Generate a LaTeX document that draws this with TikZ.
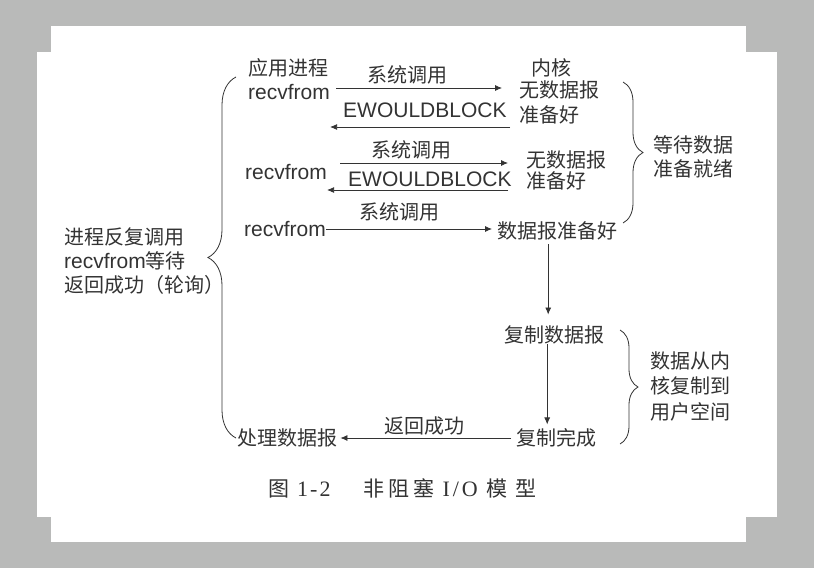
\documentclass[tikz,border=0pt]{standalone}
\usepackage{fontspec}
\setmainfont{Liberation Sans}
\newfontfamily\cjk{Noto Sans CJK SC}
\newfontfamily\lat{Liberation Sans}
\newfontfamily\ser{Liberation Serif}
\usetikzlibrary{%
  arrows.meta,
  calc,
  decorations.pathreplacing
}
\definecolor{fondgris}{HTML}{B9BAB9}
\definecolor{encre}{HTML}{333333}
\tikzset{
  zh/.style={inner sep=0pt, text=encre, font=\cjk\fontsize{20}{24}\selectfont},
  en/.style={inner sep=0pt, text=encre, font=\lat\fontsize{21}{24}\selectfont},
  fleche/.style={-{Latex[length=7pt, width=6pt]}, draw=encre, line width=0.8pt},
  accolade/.style={decorate, decoration={brace, amplitude=#1},
                   draw=encre, line width=0.8pt},
}

\begin{document}
\begin{tikzpicture}[
  x=1pt,
  y=-1pt,
]
  % fond de la page
  \fill [fondgris] (  0,  0) rectangle (814,568) ;
  \fill [white]    ( 51, 26) rectangle (746,542) ;
  \fill [white]    ( 37, 52) rectangle (777,517) ;
  \useasboundingbox (0,0) rectangle (814,568) ;

  % cote application
  \node [zh, anchor=west] (ap) at (248, 68) {应用进程} ;
  \foreach \n/\x/\y in {rf1/248/92, rf2/245/172, rf3/244/229} {
    \node [en, anchor=west] (\n) at (\x,\y) {recvfrom} ;
  }
  \node [zh, anchor=west] (cl) at (237,438) {处理数据报} ;

  % cote noyau
  \node [zh]               (nh)  at (551, 68) {内核} ;
  \node [zh, anchor=west]  (nd1) at (519, 90) {无数据报} ;
  \node [zh, anchor=west]  (zb1) at (519,115) {准备好} ;
  \node [zh, anchor=west]  (nd2) at (526,160) {无数据报} ;
  \node [zh, anchor=west]  (zb2) at (526,181) {准备好} ;
  \node [zh, anchor=west]  (sj)  at (497,231) {数据报准备好} ;
  \node [zh, anchor=west]  (fz)  at (504,335) {复制数据报} ;
  \node [zh, anchor=west]  (wc)  at (516,438) {复制完成} ;

  % etiquettes des fleches
  \foreach \n/\x/\y in {xt1/407/75, xt2/411/150, xt3/399/212} {
    \node [zh] (\n) at (\x,\y) {系统调用} ;
  }
  \node [en, anchor=west] (eb1) at (343,110) {EWOULDBLOCK} ;
  \node [en, anchor=west] (eb2) at (348,179) {EWOULDBLOCK} ;
  \node [zh]              (fh)  at (424,426) {返回成功} ;

  % appels et retours
  \draw [fleche, shorten <=6pt, shorten >=17pt]
        ([yshift=4pt]rf1.east) -- ([yshift=4pt]rf1.east -| nd1.west) ;
  \draw [fleche, shorten <=9pt]
        ([yshift=-12pt]zb1.west) -- ([yshift=-12pt]zb1.west -| rf1.east) ;
  \draw [fleche, shorten <=13pt, shorten >=18pt]
        ([yshift=9pt]rf2.east) -- ([yshift=9pt]rf2.east -| nd2.west) ;
  \draw [fleche, shorten <=18pt]
        ([yshift=-9pt]zb2.west) -- ([yshift=-9pt]zb2.west -| rf2.east) ;
  \draw [fleche, shorten >=5pt]
        (rf3.east) -- (rf3.east -| sj.west) ;
  \draw [fleche, shorten <=4pt, shorten >=11pt]
        ([xshift=-9pt]sj.south) -- ([xshift=-9pt]sj.south |- fz.north) ;
  \draw [fleche, shorten >=4pt]
        ([xshift=-7pt]fz.south) -- ([xshift=-7pt]fz.south |- wc.north) ;
  \draw [fleche, shorten <=5pt, shorten >=3pt]
        (wc.west) -- (wc.west -| cl.east) ;

  % accolades
  \draw [accolade=28pt] (236,438) -- (236, 77) ;
  \draw [accolade=20pt] (623, 82) -- (623,223) ;
  \draw [accolade=18pt] (620,330) -- (620,444) ;

  % commentaires
  \node [zh, anchor=west, align=left] (lt) at ( 64,261)
        {进程反复调用\\{\lat\fontsize{21}{24}\selectfont recvfrom}等待\\返回成功（轮询）} ;
  \node [zh, anchor=west, align=left] (rt1) at (653,157)
        {等待数据\\准备就绪} ;
  \node [zh, anchor=west, align=left, font=\cjk\fontsize{20}{25.5}\selectfont]
        (rt2) at (650,386) {数据从内\\核复制到\\用户空间} ;

  % legende
  \node [zh, anchor=west, font=\cjk\fontsize{21}{24}\selectfont] (cap) at (268,488)
        {图\hspace{8pt}{\ser\fontsize{22}{24}\selectfont 1\hspace{2pt}-\hspace{2pt}2}%
         \hspace{33pt}非\hspace{4pt}阻\hspace{4pt}塞\hspace{8pt}%
         {\ser\fontsize{22}{24}\selectfont I\hspace{3pt}/\hspace{3pt}O}%
         \hspace{9pt}模\hspace{8pt}型} ;
\end{tikzpicture}
\end{document}
